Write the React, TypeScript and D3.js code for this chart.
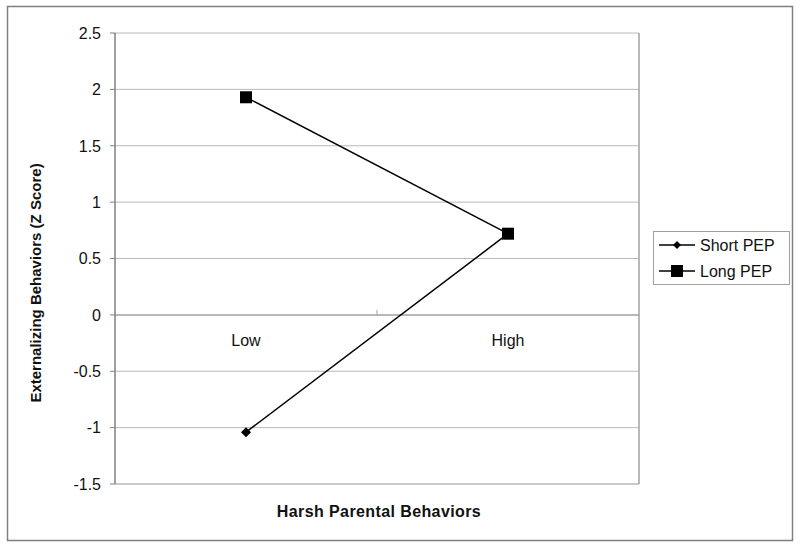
import React from "react";
import * as d3 from "d3";

const categories = ["Low", "High"];
const shortPEP = [-1.04, 0.72];
const longPEP = [1.93, 0.72];
const seriesNames = ["Short PEP", "Long PEP"];
const yTicks = [2.5, 2, 1.5, 1, 0.5, 0, -0.5, -1, -1.5];

const FONT = "Arial, 'Liberation Sans', sans-serif";

export default function App() {
  const W = 800, H = 548;
  const left = 115, right = 639, top = 33, bottom = 484;
  const x = d3.scaleBand<string>().domain(categories).range([left, right]);
  const y = d3.scaleLinear().domain([-1.5, 2.5]).range([bottom, top]);
  const cx = (c: string) => (x(c) as number) + x.bandwidth() / 2;
  const line = d3.line<[string, number]>().x(d => cx(d[0])).y(d => y(d[1]));
  const shortPts: [string, number][] = categories.map((c, i) => [c, shortPEP[i]]);
  const longPts: [string, number][] = categories.map((c, i) => [c, longPEP[i]]);
  const diamond = (px: number, py: number, r: number) =>
    `M${px},${py - r}L${px + r},${py}L${px},${py + r}L${px - r},${py}Z`;

  const legX = 653, legY = 231, legW = 136, legH = 53;
  return (
    <svg width={W} height={H} style={{ position: "absolute", left: 0, top: 0 }}>
      <rect x={0} y={0} width={W} height={H} fill="#fff" />
      <rect x={7.5} y={6.5} width={785} height={534} fill="none" stroke="#808080" strokeWidth={1.5} />
      {yTicks.map(t => (
        <g key={t}>
          <line x1={left} x2={right} y1={y(t)} y2={y(t)} stroke={t === 0 ? "#a0a0a0" : "#b8b8b8"} strokeWidth={t === 0 || t === -1.5 ? 1.5 : 1} />
          <line x1={left - 5} x2={left} y1={y(t)} y2={y(t)} stroke="#808080" />
          <text x={left - 14} y={y(t)} dy="0.36em" textAnchor="end" fontFamily={FONT} fontSize={16} fill="#111">{t}</text>
        </g>
      ))}
      <line x1={right} x2={right} y1={top} y2={bottom} stroke="#a0a0a0" strokeWidth={1.5} />
      <line x1={left} x2={left} y1={top} y2={bottom} stroke="#808080" strokeWidth={1.5} />
      <line x1={x("High") as number} x2={x("High") as number} y1={y(0) - 5} y2={y(0)} stroke="#a0a0a0" />
      {categories.map(c => (
        <text key={c} x={cx(c)} y={y(0) + 31} textAnchor="middle" fontFamily={FONT} fontSize={16} fill="#111">{c}</text>
      ))}
      <path d={line(shortPts) as string} fill="none" stroke="#000" strokeWidth={1.5} />
      <path d={line(longPts) as string} fill="none" stroke="#000" strokeWidth={1.5} />
      {shortPts.map((p, i) => <path key={"s" + i} d={diamond(cx(p[0]), y(p[1]), 5)} fill="#000" />)}
      {longPts.map((p, i) => <rect key={"l" + i} x={cx(p[0]) - 6} y={y(p[1]) - 6} width={12} height={12} fill="#000" />)}
      <text transform={`translate(41,283) rotate(-90)`} textAnchor="middle" fontFamily={FONT} fontWeight="bold" fontSize={15} fill="#111">Externalizing Behaviors (Z Score)</text>
      <text x={(left + right) / 2 + 2} y={517} textAnchor="middle" fontFamily={FONT} fontWeight="bold" fontSize={16} letterSpacing={0.4} fill="#111">Harsh Parental Behaviors</text>
      <rect x={legX + 0.5} y={legY + 0.5} width={legW} height={legH} fill="#fff" stroke="#a0a0a0" />
      {seriesNames.map((s, i) => {
        const ly = legY + 14 + i * 26;
        return (
          <g key={s}>
            <line x1={legX + 6} x2={legX + 42} y1={ly} y2={ly} stroke="#000" strokeWidth={1.5} />
            {i === 0 ? <path d={diamond(legX + 24, ly, 4)} fill="#000" /> : <rect x={legX + 18} y={ly - 6} width={12} height={12} fill="#000" />}
            <text x={legX + 47} y={ly} dy="0.36em" fontFamily={FONT} fontSize={16} fill="#111">{s}</text>
          </g>
        );
      })}
    </svg>
  );
}
